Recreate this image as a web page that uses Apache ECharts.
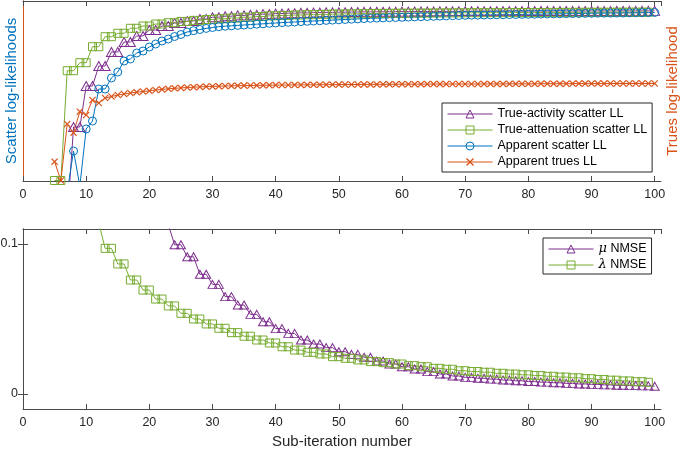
<!DOCTYPE html>
<html>
<head>
<meta charset="utf-8">
<script src="https://cdn.jsdelivr.net/npm/echarts@6/dist/echarts.min.js"></script>
<style>html,body{margin:0;padding:0;background:#fff;}#chart{width:685px;height:449px;}</style>
</head>
<body>
<div id="chart"></div>
<script>
// Sub-iteration numbers
var iterations = [1,2,3,4,5,6,7,8,9,10,11,12,13,14,15,16,17,18,19,20,
21,22,23,24,25,26,27,28,29,30,31,32,33,34,35,36,37,38,39,40,
41,42,43,44,45,46,47,48,49,50,51,52,53,54,55,56,57,58,59,60,
61,62,63,64,65,66,67,68,69,70,71,72,73,74,75,76,77,78,79,80,
81,82,83,84,85,86,87,88,89,90,91,92,93,94,95,96,97,98,99,100];

// Top panel (arbitrary log-likelihood units, no tick labels in the original)
var trueActivityLL = [null,null,null,null,null,null,-39,54,54,95,
95,115,115,129,129,139,139,145,145,151,
151,155,155,158,158,160,160,162,162,163.8,
163.8,164.8,164.8,165.6,165.6,166.3,166.3,166.9,166.9,167.4,
167.4,167.8,167.8,168.1,168.1,168.4,168.4,168.6,168.6,168.8,
168.8,169,169,169.1,169.1,169.2,169.2,169.3,169.3,169.4,
169.4,169.5,169.5,169.55,169.55,169.6,169.6,169.65,169.65,169.7,
169.7,169.75,169.75,169.8,169.8,169.85,169.85,169.9,169.9,169.92,
169.92,169.95,169.95,169.97,169.97,170,170,170.02,170.02,170.04,
170.04,170.06,170.06,170.08,170.08,170.1,170.1,170.12,170.12,170.14];

var trueAttenuationLL = [null,null,null,null,0.5,0.5,110.3,110.3,118.3,118.3,
134.3,134.3,144.3,144.3,147.7,147.7,152.7,152.7,155,155,
157,157,158.3,158.3,159.5,159.5,160.6,160.6,161.5,161.5,
162.2,162.2,163,163,163.8,163.8,164.5,164.5,165.2,165.2,
165.6,165.6,166,166,166.3,166.3,166.6,166.6,166.9,166.9,
167.1,167.1,167.3,167.3,167.5,167.5,167.6,167.6,167.7,167.7,
167.8,167.8,167.9,167.9,168,168,168.1,168.1,168.2,168.2,
168.25,168.25,168.3,168.3,168.35,168.35,168.4,168.4,168.45,168.45,
168.5,168.5,168.55,168.55,168.6,168.6,168.65,168.65,168.7,168.7,
168.72,168.72,168.75,168.75,168.78,168.78,168.8,168.8,168.82,null];

var apparentScatterLL = [null,null,null,null,null,null,-11,30,-5,52,
60,92,92,103,109,120,122,128,130,134,
137,140,142,144.5,146.5,149,150.3,151.5,152.6,153.5,
154.3,154.8,155.2,155.6,156,156.4,156.8,157.2,157.7,158,
158.4,158.7,159,159.4,159.7,160,160.3,160.6,160.9,161.2,
161.5,161.8,162.1,162.4,162.7,162.9,163.1,163.3,163.5,163.7,
163.9,164.1,164.3,164.5,164.7,164.9,165.1,165.3,165.5,165.7,
165.8,165.9,166,166.1,166.2,166.3,166.4,166.5,166.6,166.7,
166.8,166.9,167,167.1,167.2,167.3,167.4,167.5,167.6,167.7,
167.8,167.85,167.9,167.95,168,168.1,168.2,168.3,168.4,168.5];

var apparentTruesLL = [null,null,null,null,19.3,0.5,57,48.3,69.3,66,
81,78,83,84.5,86,87,88,88.8,89.5,90.2,
91,91.6,92.2,92.7,93.1,93.5,93.8,94.1,94.4,94.6,
94.8,95,95.2,95.3,95.4,95.5,95.6,95.7,95.8,95.9,
96,96,96.1,96.1,96.2,96.2,96.3,96.3,96.4,96.4,
96.5,96.5,96.5,96.6,96.6,96.6,96.7,96.7,96.7,96.8,
96.8,96.8,96.8,96.9,96.9,96.9,96.9,97,97,97,
97,97,97.1,97.1,97.1,97.1,97.2,97.2,97.2,97.2,
97.2,97.3,97.3,97.3,97.3,97.3,97.4,97.4,97.4,97.4,
97.4,97.4,97.5,97.5,97.5,97.5,97.5,97.5,97.5,97.5];

// Bottom panel NMSE
var nmseMu = [null,null,null,null,null,null,null,null,null,null,
null,null,null,null,null,null,null,null,null,null,
null,0.113,0.113,0.0995,0.0995,0.0915,0.0915,0.0798,0.0798,0.0731,
0.0731,0.0649,0.0649,0.0593,0.0593,0.0531,0.0531,0.0482,0.0482,0.0436,
0.0436,0.0404,0.0404,0.036,0.036,0.0333,0.0333,0.0309,0.0309,0.0282,
0.0282,0.0264,0.0264,0.0245,0.0245,0.022,0.022,0.02,0.02,0.0182,
0.0182,0.0167,0.0167,0.0149,0.0149,0.0133,0.0133,0.012,0.012,0.0111,
0.0111,0.0105,0.0105,0.0099,0.0099,0.0093,0.0093,0.0088,0.0088,0.0083,
0.0083,0.0079,0.0079,0.0075,0.0075,0.0071,0.0071,0.0067,0.0067,0.0064,
0.0064,0.0061,0.0061,0.0058,0.0058,0.0056,0.0056,0.0054,0.0054,0.0052];

var nmseLambda = [null,null,null,null,null,null,null,null,null,null,
0.114,0.114,0.0971,0.0971,0.0867,0.0867,0.076,0.076,0.0693,0.0693,
0.0633,0.0633,0.0587,0.0587,0.0538,0.0538,0.05,0.05,0.0467,0.0467,
0.0438,0.0438,0.0409,0.0409,0.0385,0.0385,0.036,0.036,0.034,0.034,
0.0315,0.0315,0.0293,0.0293,0.0278,0.0278,0.0267,0.0267,0.0249,0.0249,
0.0238,0.0238,0.0227,0.0227,0.0216,0.0216,0.0209,0.0209,0.02,0.02,
0.0189,0.0189,0.0182,0.0182,0.0171,0.0171,0.0165,0.0165,0.0155,0.0155,
0.015,0.015,0.0145,0.0145,0.0138,0.0138,0.0133,0.0133,0.0128,0.0128,
0.0123,0.0123,0.0118,0.0118,0.0113,0.0113,0.0108,0.0108,0.0102,0.0102,
0.0097,0.0097,0.0092,0.0092,0.0087,0.0087,0.0082,0.0082,0.0078,null];

var nmseTicks = [0, 0.1];
var xTickInterval = 10;
var topNames = ['True-activity scatter LL', 'True-attenuation scatter LL', 'Apparent scatter LL', 'Apparent trues LL'];
var bottomNames = ['μ NMSE', 'λ NMSE'];

var PURPLE = '#7E2F8E', GREEN = '#77AC30', BLUE = '#0072BD', ORANGE = '#D95319';
var AX = '#4a4a4a', TXT = '#262626';
var FONT = '"Liberation Sans", Arial, Helvetica, sans-serif';
var CROSS = 'path://M0,1.2L1.2,0L5,3.8L8.8,0L10,1.2L6.2,5L10,8.8L8.8,10L5,6.2L1.2,10L0,8.8L3.8,5Z';
var NOFILL = 'rgba(255,255,255,0)';

function pairs(vals) {
  var out = [];
  for (var k = 0; k < iterations.length; k++) {
    if (vals[k] !== null && vals[k] !== undefined) out.push([iterations[k], vals[k]]);
  }
  return out;
}

function itemStyleFor(color, hollow) {
  return hollow ? { color: NOFILL, borderColor: color, borderWidth: 1 }
                : { color: color, borderWidth: 0 };
}

function lineSeries(name, vals, color, symbol, size, xi, yi, hollow) {
  return {
    name: name, type: 'line', data: pairs(vals),
    xAxisIndex: xi, yAxisIndex: yi,
    symbol: symbol, symbolSize: size, showSymbol: true, clip: true,
    lineStyle: { color: color, width: 1 },
    itemStyle: itemStyleFor(color, hollow),
    emphasis: { disabled: true },
    animation: false
  };
}

function legendItem(name, color, hollow) {
  return { name: name, itemStyle: itemStyleFor(color, hollow), lineStyle: { color: color, width: 1 } };
}

function xAx(gi, pos, labels, name) {
  var a = {
    type: 'value', gridIndex: gi, position: pos, min: 0, max: 101, interval: xTickInterval,
    axisLine: { show: true, onZero: false, lineStyle: { color: AX, width: 1 } },
    axisTick: { show: true, inside: true, length: 5, lineStyle: { color: AX } },
    axisLabel: { show: labels, margin: 7, fontSize: 12.5, color: TXT, fontFamily: FONT },
    splitLine: { show: false }
  };
  if (name) {
    a.name = name; a.nameLocation = 'middle'; a.nameGap = 25;
    a.nameTextStyle = { fontSize: 15, color: TXT, fontFamily: FONT };
  }
  return a;
}

var chart = echarts.init(document.getElementById('chart'), null, { renderer: 'canvas' });
chart.setOption({
  animation: false,
  backgroundColor: '#fff',
  grid: [
    { left: 23, top: 1, width: 638, height: 180, containLabel: false, outerBoundsMode: 'none' },
    { left: 23, top: 229, width: 638, height: 180, containLabel: false, outerBoundsMode: 'none' }
  ],
  xAxis: [
    xAx(0, 'bottom', true),
    xAx(0, 'top', false),
    xAx(1, 'bottom', true, 'Sub-iteration number'),
    xAx(1, 'top', false)
  ],
  yAxis: [
    { type: 'value', gridIndex: 0, position: 'left', min: 0, max: 180,
      axisLine: { show: true, lineStyle: { color: BLUE, width: 1 } },
      axisTick: { show: false }, axisLabel: { show: false }, splitLine: { show: false },
      name: 'Scatter log-likelihoods', nameLocation: 'middle', nameRotate: 90, nameGap: 4,
      nameTextStyle: { fontSize: 15, color: BLUE, fontFamily: FONT } },
    { type: 'value', gridIndex: 0, position: 'right', min: 0, max: 180,
      axisLine: { show: true, lineStyle: { color: ORANGE, width: 1 } },
      axisTick: { show: false }, axisLabel: { show: false }, splitLine: { show: false },
      name: 'Trues log-likelihood', nameLocation: 'middle', nameRotate: 90, nameGap: 4,
      nameTextStyle: { fontSize: 15, color: ORANGE, fontFamily: FONT } },
    { type: 'value', gridIndex: 1, position: 'left', min: -0.01, max: 0.11,
      axisLine: { show: true, lineStyle: { color: AX, width: 1 } },
      axisTick: { show: true, inside: true, length: 5, customValues: nmseTicks, lineStyle: { color: AX } },
      axisLabel: { show: true, customValues: nmseTicks, margin: 5, fontSize: 12.5, color: TXT, fontFamily: FONT,
        formatter: function (v) { return String(Math.round(v * 10) / 10); } },
      splitLine: { show: false },
      name: 'NMSE ({i|μ}, {i|λ})', nameLocation: 'middle', nameRotate: 90, nameGap: 6,
      nameTextStyle: { fontSize: 15, color: TXT, fontFamily: FONT,
        rich: { i: { fontSize: 15, fontStyle: 'italic', color: TXT, fontFamily: '"DejaVu Serif", serif' } } } },
    { type: 'value', gridIndex: 1, position: 'right', min: -0.01, max: 0.11,
      axisLine: { show: true, lineStyle: { color: AX, width: 1 } },
      axisTick: { show: true, inside: true, length: 5, customValues: nmseTicks, lineStyle: { color: AX } },
      axisLabel: { show: false }, splitLine: { show: false } }
  ],
  legend: [
    { orient: 'vertical', left: 442, top: 103,
      data: [legendItem(topNames[0], PURPLE, true), legendItem(topNames[1], GREEN, true),
             legendItem(topNames[2], BLUE, true), legendItem(topNames[3], ORANGE, false)],
      itemWidth: 45, itemHeight: 10, itemGap: 2, padding: [4, 5, 3, 5],
      borderColor: '#262626', borderWidth: 1, backgroundColor: '#fff',
      textStyle: { fontSize: 12.5, color: '#000', fontFamily: FONT, lineHeight: 14 } },
    { orient: 'vertical', left: 543, top: 238,
      data: [legendItem(bottomNames[0], PURPLE, true), legendItem(bottomNames[1], GREEN, true)],
      itemWidth: 45, itemHeight: 10, itemGap: 2, padding: [4, 5, 2, 5],
      borderColor: '#262626', borderWidth: 1, backgroundColor: '#fff',
      formatter: function (n) { return '{i|' + n.charAt(0) + '} ' + n.slice(2); },
      textStyle: { fontSize: 12.5, color: '#000', fontFamily: FONT, lineHeight: 14,
        rich: { i: { fontSize: 13, fontStyle: 'italic', fontFamily: '"DejaVu Serif", serif', color: '#000' } } } }
  ],
  series: [
    lineSeries(topNames[0], trueActivityLL, PURPLE, 'triangle', [10, 9], 0, 0, true),
    lineSeries(topNames[1], trueAttenuationLL, GREEN, 'rect', 8, 0, 0, true),
    lineSeries(topNames[2], apparentScatterLL, BLUE, 'circle', 8, 0, 0, true),
    lineSeries(topNames[3], apparentTruesLL, ORANGE, CROSS, 7, 0, 1, false),
    lineSeries(bottomNames[0], nmseMu, PURPLE, 'triangle', [9, 8], 2, 2, true),
    lineSeries(bottomNames[1], nmseLambda, GREEN, 'rect', 8, 2, 2, true)
  ]
});
</script>
</body>
</html>
